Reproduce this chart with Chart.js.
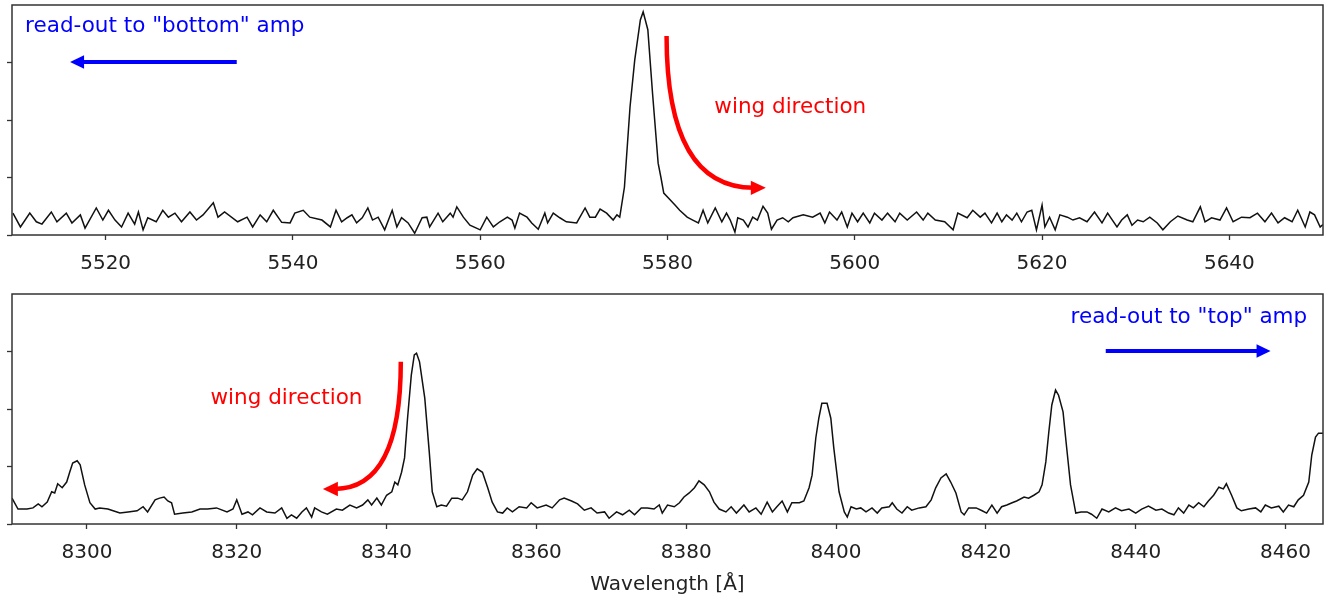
<!DOCTYPE html>
<html>
<head>
<meta charset="utf-8">
<script src="https://cdn.jsdelivr.net/npm/chart.js@4.4.0/dist/chart.umd.min.js"></script>
<style>
  html, body { margin: 0; padding: 0; background: #fff; }
  #topBox { position: absolute; left: 0; top: 0; width: 1331px; height: 290px; }
  #botBox { position: absolute; left: 0; top: 285px; width: 1331px; height: 321px; }
</style>
</head>
<body>
<div id="topBox"><canvas id="topChart" width="1331" height="290"></canvas></div>
<div id="botBox"><canvas id="botChart" width="1331" height="321"></canvas></div>
<script>
// ---- data ----
var topWave = [5510.1,5510.9,5511.9,5512.6,5513.2,5514.2,5514.8,5515.8,5516.4,5517.3,5517.8,5519.0,5519.7,5520.3,5521.0,5521.7,5522.4,5523.1,5523.5,5524.0,5524.5,5525.4,5526.1,5526.7,5527.4,5528.1,5529.0,5529.7,5530.4,5531.5,5532.0,5532.7,5534.1,5535.1,5535.7,5536.5,5537.2,5537.9,5538.8,5539.7,5540.2,5541.1,5541.8,5543.1,5544.0,5544.6,
  5545.2,5545.8,5546.3,5546.8,5547.4,5548.0,5548.5,5549.1,5549.8,5550.6,5551.1,5551.6,5552.3,5553.0,5553.8,5554.3,5554.6,5555.5,5556.0,5556.8,5557.1,5557.5,5558.2,5558.9,5560.0,5560.7,5561.4,5562.1,5562.9,5563.4,5563.7,5564.2,5565.0,5565.5,5566.2,5566.9,5567.2,5567.8,5568.5,5569.2,5570.3,5571.2,5571.7,5572.3,5572.8,5573.5,5574.2,5574.6,5574.9,
  5575.4,5576.0,5576.5,5577.1,5577.4,5577.9,5578.4,5579.0,5579.3,5579.6,5580.3,5580.8,5581.3,5582.1,5582.7,5583.3,5583.8,5584.3,5585.1,5585.8,5586.3,5586.7,5587.2,5587.5,5588.1,5588.6,5589.1,5589.6,5590.2,5590.7,5591.1,5591.7,5592.3,5592.9,5593.4,5594.5,5595.5,5596.3,5596.8,5597.3,5598.1,5598.6,5599.2,5599.7,
  5600.3,5600.9,5601.6,5602.1,5602.9,5603.5,5604.3,5604.8,5605.6,5606.6,5607.3,5607.8,5608.6,5609.6,5610.5,5611.0,5612.0,5612.6,5613.4,5613.9,5614.6,5615.2,5615.7,5616.2,5616.8,5617.3,5617.8,5618.4,5618.9,5619.4,5620.0,5620.3,5620.8,5621.4,5621.9,5622.7,5623.3,5624.0,5624.8,5625.6,5626.4,5627.0,5628.0,5628.5,5629.1,5629.6,
  5630.2,5630.8,5631.5,5632.3,5632.9,5633.7,5634.5,5635.5,5636.1,5636.9,5637.4,5638.1,5639.0,5639.7,5640.4,5641.3,5642.2,5643.0,5643.8,5644.5,5645.2,5645.9,5646.7,5647.3,5648.1,5648.6,5649.1,5649.7,5650.0];
var topFlux = [38,14,38,23,19,40,23,38,21,35,12,47,26,43,26,14,38,19,40,9,30,23,43,31,38,23,40,26,35,56,31,40,23,31,14,35,23,43,22,21,38,43,31,26,14,43,
  23,30,35,21,30,47,26,31,9,43,14,30,21,3,30,31,14,38,23,38,31,49,31,17,9,31,14,23,31,26,12,38,31,21,10,38,21,38,30,23,21,47,31,31,45,38,26,35,31,
  83,223,304,374,388,357,247,125,100,73,61,52,43,31,26,21,43,21,47,23,38,26,5,30,26,14,31,26,50,38,10,26,30,23,30,35,31,38,21,40,26,40,14,38,
  23,38,21,38,26,38,23,38,26,40,26,38,26,23,9,38,30,43,31,38,21,38,23,35,26,38,23,40,43,9,52,14,31,9,35,31,26,30,23,40,21,38,14,26,35,17,
  26,23,31,21,9,23,33,26,23,49,23,30,26,47,23,31,30,38,23,38,21,30,23,43,14,40,35,14,18];

var botWave = [8290.0,8290.8,8292.0,8292.8,8293.5,8294.0,8294.7,8295.3,8295.7,8296.1,8296.7,8297.3,8297.7,8298.1,8298.7,8299.1,8299.7,8300.4,8301.1,8301.7,8302.8,8303.5,8304.4,8305.5,8306.7,8307.5,8308.1,8309.1,8309.7,8310.3,8310.8,8311.3,8311.7,8312.8,8314.0,8315.1,8316.1,8317.3,8318.7,8319.5,
  8320.0,8320.7,8321.5,8322.1,8323.1,8324.0,8325.1,8326.0,8326.7,8327.3,8328.0,8328.7,8329.3,8330.0,8330.4,8331.3,8332.1,8333.3,8334.1,8335.1,8336.0,8336.8,8337.5,8338.0,8338.7,8339.3,8340.0,8340.7,8341.1,8341.5,8342.0,8342.4,8342.8,8343.3,8343.7,8344.0,8344.4,8345.1,8345.7,8346.1,8346.7,8347.3,8348.0,8348.7,8349.5,
  8350.1,8350.8,8351.5,8352.1,8352.8,8353.5,8354.1,8354.8,8355.5,8356.1,8356.8,8357.7,8358.7,8359.3,8360.1,8361.3,8362.1,8363.1,8363.7,8364.7,8365.5,8366.4,8367.3,8368.1,8369.1,8369.7,8370.7,8371.5,8372.4,8373.1,8374.0,8374.8,8375.7,8376.4,8376.8,8377.5,8378.4,8379.1,8379.7,
  8380.4,8381.1,8381.7,8382.4,8383.1,8383.7,8384.4,8385.3,8386.0,8386.7,8387.7,8388.4,8389.3,8390.0,8390.8,8391.5,8392.1,8392.8,8393.5,8394.1,8395.1,8395.7,8396.4,8396.8,8397.3,8397.7,8398.1,8398.8,8399.3,8399.7,8400.4,8401.1,8401.5,8402.0,8402.7,8403.3,8404.0,8404.8,8405.5,8406.1,8407.1,8407.5,8408.1,8408.8,8409.5,
  8410.1,8411.1,8412.0,8412.7,8413.3,8414.0,8414.7,8415.3,8416.0,8416.7,8417.1,8417.7,8418.7,8419.5,8420.1,8420.8,8421.5,8422.1,8422.8,8423.5,8424.1,8425.1,8425.7,8426.4,8427.1,8427.5,8428.0,8428.4,8428.8,8429.3,8429.7,8430.3,8430.7,8431.3,8432.0,8432.7,8433.5,8434.1,8434.8,8435.5,8436.4,8437.3,8438.1,8439.1,
  8440.0,8440.8,8441.7,8442.7,8443.5,8444.4,8445.1,8445.7,8446.4,8447.1,8447.7,8448.4,8449.1,8449.7,8450.4,8451.1,8451.7,8452.1,8452.8,8453.5,8454.1,8455.1,8456.0,8456.7,8457.3,8458.1,8459.1,8459.7,8460.4,8461.1,8461.7,8462.4,8463.1,8463.5,8464.0,8464.4,8465.0];
var botFlux = [45,26,26,28,35,30,38,56,54,70,63,73,90,106,110,103,68,37,26,28,26,23,19,21,23,30,21,42,45,47,40,37,17,19,21,26,26,28,21,26,
  42,17,21,16,28,21,19,28,10,16,10,21,28,12,28,21,17,26,24,33,28,33,42,33,45,33,50,56,73,68,90,115,184,259,294,297,282,219,125,56,30,33,31,45,45,
  42,56,85,96,90,63,38,21,19,28,21,30,28,37,28,33,28,42,45,40,35,24,28,19,21,10,21,16,24,16,28,28,26,33,19,33,30,37,47,
  54,63,75,68,56,38,26,21,30,19,33,21,28,17,38,21,30,40,21,37,37,40,63,85,150,184,210,210,184,132,56,21,12,30,26,28,21,28,19,28,30,37,26,19,30,
  24,28,30,42,63,80,87,73,54,21,16,28,28,23,19,33,19,30,33,37,40,47,45,50,56,68,108,160,207,233,224,195,143,68,19,21,21,17,10,26,21,28,23,26,
  19,26,31,24,26,19,16,28,19,33,28,37,30,40,50,64,61,70,50,28,23,26,28,21,33,28,31,21,33,30,42,50,73,120,151,158,158];

var topTicks = [5520, 5540, 5560, 5580, 5600, 5620, 5640];
var botTicks = [8300, 8320, 8340, 8360, 8380, 8400, 8420, 8440, 8460];
var yTicks = [0, 100, 200, 300];

// ---- helpers ----
var FONT = "'DejaVu Sans', sans-serif";

function pairs(xs, ys) {
  return xs.map(function (x, i) { return { x: x, y: ys[i] }; });
}

var framePlugin = {
  id: 'frame',
  afterDraw: function (chart) {
    var ctx = chart.ctx, a = chart.chartArea;
    ctx.save();
    ctx.strokeStyle = '#333';
    ctx.lineWidth = 1.5;
    ctx.strokeRect(a.left, a.top, a.right - a.left, a.bottom - a.top);
    ctx.restore();
  }
};

// text and arrows, placed in data coordinates
var notesPlugin = {
  id: 'notes',
  afterDatasetsDraw: function (chart, args, opts) {
    var ctx = chart.ctx, sx = chart.scales.x, sy = chart.scales.y;
    var P = function (p) { return [sx.getPixelForValue(p[0]), sy.getPixelForValue(p[1])]; };
    ctx.save();
    (opts.texts || []).forEach(function (t) {
      var p = P(t.at);
      ctx.fillStyle = t.color;
      ctx.font = '21.5px ' + FONT;
      ctx.textAlign = 'left';
      ctx.textBaseline = 'alphabetic';
      ctx.fillText(t.text, p[0], p[1]);
    });
    (opts.arrows || []).forEach(function (a) {
      var s = P(a.from), e = P(a.to), c = a.ctrl ? P(a.ctrl) : s;
      var dx = e[0] - c[0], dy = e[1] - c[1], len = Math.hypot(dx, dy);
      dx /= len; dy /= len;
      var hl = a.head, hw = a.head * 0.48;
      var bx = e[0] - dx * hl * 0.8, by = e[1] - dy * hl * 0.8;
      ctx.strokeStyle = a.color;
      ctx.fillStyle = a.color;
      ctx.lineWidth = a.width;
      ctx.lineCap = 'butt';
      ctx.beginPath();
      ctx.moveTo(s[0], s[1]);
      if (a.ctrl) ctx.quadraticCurveTo(c[0], c[1], bx, by);
      else ctx.lineTo(bx, by);
      ctx.stroke();
      ctx.beginPath();
      ctx.moveTo(e[0], e[1]);
      ctx.lineTo(e[0] - dx * hl - dy * hw, e[1] - dy * hl + dx * hw);
      ctx.lineTo(e[0] - dx * hl + dy * hw, e[1] - dy * hl - dx * hw);
      ctx.closePath();
      ctx.fill();
    });
    ctx.restore();
  }
};

function makeChart(id, wave, flux, xmin, xmax, xticks, notes, pad, axisHeight, withTitle) {
  return new Chart(document.getElementById(id), {
    type: 'line',
    data: {
      datasets: [{
        data: pairs(wave, flux),
        borderColor: '#111',
        borderWidth: 1.5,
        pointRadius: 0,
        tension: 0,
        fill: false
      }]
    },
    options: {
      responsive: false,
      animation: false,
      devicePixelRatio: 1,
      layout: { padding: pad },
      plugins: { legend: { display: false }, tooltip: { enabled: false }, notes: notes },
      scales: {
        x: {
          type: 'linear',
          min: xmin,
          max: xmax,
          afterBuildTicks: function (s) { s.ticks = xticks.map(function (v) { return { value: v }; }); },
          afterFit: function (s) { s.height = axisHeight; },
          ticks: {
            autoSkip: false, maxRotation: 0, padding: 12, color: '#222',
            font: { family: FONT, size: 20 },
            callback: function (v) { return String(v); }
          },
          grid: { drawOnChartArea: false, tickLength: 5, tickWidth: 1.3, tickColor: '#333' },
          border: { display: false },
          title: {
            display: withTitle,
            text: 'Wavelength [Å]',
            color: '#222',
            font: { family: FONT, size: 20 },
            padding: { top: 0, bottom: 0 }
          }
        },
        y: {
          min: 0,
          max: 400,
          afterBuildTicks: function (s) { s.ticks = yTicks.map(function (v) { return { value: v }; }); },
          ticks: { display: false },
          grid: { drawOnChartArea: false, tickLength: 5, tickWidth: 1.3, tickColor: '#333' },
          border: { display: false }
        }
      }
    },
    plugins: [framePlugin, notesPlugin]
  });
}

makeChart('topChart', topWave, topFlux, 5510, 5650, topTicks, {
  texts: [
    { text: 'read-out to "bottom" amp', at: [5511.4, 353], color: '#0000ff' },
    { text: 'wing direction', at: [5585.0, 212], color: '#ff0000' }
  ],
  arrows: [
    { from: [5534.0, 301], to: [5516.2, 301], color: '#0000ff', width: 4, head: 14 },
    { from: [5579.9, 346], ctrl: [5579.9, 82], to: [5590.5, 82], color: '#ff0000', width: 4.5, head: 15 }
  ]
}, { top: 5, left: 7, right: 8, bottom: 0 }, 55, false);

makeChart('botChart', botWave, botFlux, 8290, 8465, botTicks, {
  texts: [
    { text: 'read-out to "top" amp', at: [8431.3, 350], color: '#0000ff' },
    { text: 'wing direction', at: [8316.5, 209], color: '#ff0000' }
  ],
  arrows: [
    { from: [8436.0, 301], to: [8458.0, 301], color: '#0000ff', width: 4, head: 14 },
    { from: [8341.9, 282], ctrl: [8341.9, 61], to: [8331.5, 61], color: '#ff0000', width: 4.5, head: 15 }
  ]
}, { top: 9, left: 7, right: 8, bottom: 9 }, 73, true);
</script>
</body>
</html>
